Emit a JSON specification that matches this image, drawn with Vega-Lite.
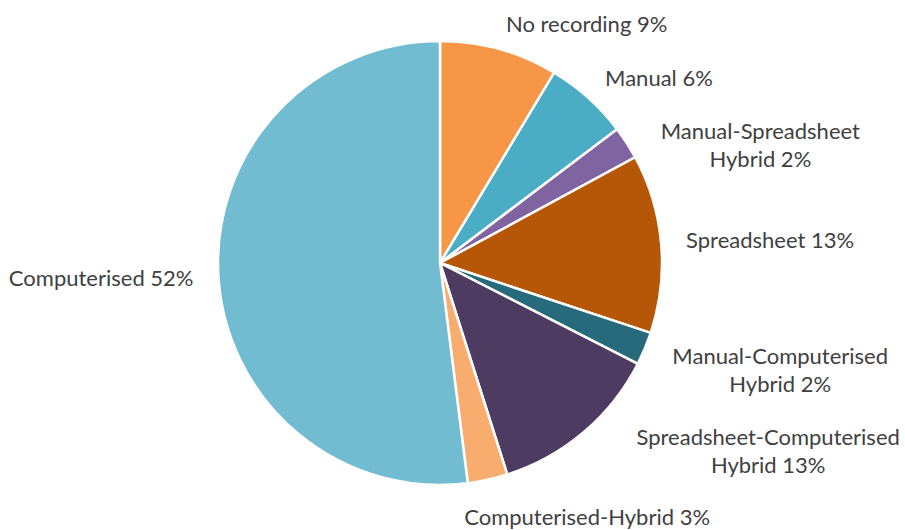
{
  "$schema": "https://vega.github.io/schema/vega-lite/v6.json",
  "width": 880,
  "height": 526,
  "autosize": "none",
  "padding": {"left": 0, "top": 0, "right": 25, "bottom": 4},
  "background": "white",
  "view": {"stroke": null},
  "data": {
    "values": [
      {"order": 1, "category": "No recording", "value": 8.6, "label": "No recording 9%"},
      {"order": 2, "category": "Manual", "value": 6.1, "label": "Manual 6%"},
      {"order": 3, "category": "Manual-Spreadsheet Hybrid", "value": 2.4, "label": "Manual-Spreadsheet\nHybrid 2%"},
      {"order": 4, "category": "Spreadsheet", "value": 13.0, "label": "Spreadsheet 13%"},
      {"order": 5, "category": "Manual-Computerised Hybrid", "value": 2.4, "label": "Manual-Computerised\nHybrid 2%"},
      {"order": 6, "category": "Spreadsheet-Computerised Hybrid", "value": 12.6, "label": "Spreadsheet-Computerised\nHybrid 13%"},
      {"order": 7, "category": "Computerised-Hybrid", "value": 2.9, "label": "Computerised-Hybrid 3%"},
      {"order": 8, "category": "Computerised", "value": 52.0, "label": "Computerised 52%"}
    ]
  },
  "encoding": {
    "theta": {"field": "value", "type": "quantitative", "stack": true},
    "order": {"field": "order", "type": "quantitative"}
  },
  "layer": [
    {
      "mark": {"type": "arc", "outerRadius": 222, "stroke": "white", "strokeWidth": 2.5},
      "encoding": {
        "color": {
          "field": "category",
          "type": "nominal",
          "scale": {
            "domain": ["No recording", "Manual", "Manual-Spreadsheet Hybrid", "Spreadsheet", "Manual-Computerised Hybrid", "Spreadsheet-Computerised Hybrid", "Computerised-Hybrid", "Computerised"],
            "range": ["#F79646", "#4BACC6", "#8064A2", "#B65708", "#276A7C", "#4D3B62", "#F8AD6E", "#72BCD1"]
          },
          "legend": null
        }
      }
    },
    {
      "mark": {"type": "text", "radius": 247, "align": "left", "baseline": "middle", "fontSize": 22, "font": "Lato", "fill": "#404040"},
      "encoding": {
        "text": {"condition": {"test": "datum.order == 1 || datum.order == 2 || datum.order == 4", "field": "label"}, "value": ""}
      }
    },
    {
      "mark": {"type": "text", "radius": 243, "dx": 116, "align": "center", "baseline": "middle", "fontSize": 22, "font": "Lato", "fill": "#404040", "lineBreak": "\n", "lineHeight": 28},
      "encoding": {
        "text": {"condition": {"test": "datum.order == 3 || datum.order == 5", "field": "label"}, "value": ""}
      }
    },
    {
      "mark": {"type": "text", "radius": 229, "dx": 180, "align": "center", "baseline": "middle", "fontSize": 22, "font": "Lato", "fill": "#404040", "lineBreak": "\n", "lineHeight": 28},
      "encoding": {
        "text": {"condition": {"test": "datum.order == 6", "field": "label"}, "value": ""}
      }
    },
    {
      "mark": {"type": "text", "radius": 261, "dx": 91, "align": "center", "baseline": "middle", "fontSize": 22, "font": "Lato", "fill": "#404040"},
      "encoding": {
        "text": {"condition": {"test": "datum.order == 7", "field": "label"}, "value": ""}
      }
    },
    {
      "mark": {"type": "text", "radius": 247, "align": "right", "baseline": "middle", "fontSize": 22, "font": "Lato", "fill": "#404040"},
      "encoding": {
        "text": {"condition": {"test": "datum.order == 8", "field": "label"}, "value": ""}
      }
    }
  ]
}
